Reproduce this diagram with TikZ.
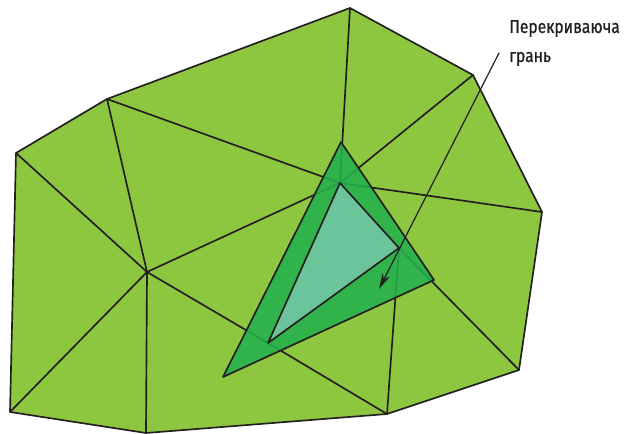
\documentclass[tikz,border=0pt]{standalone}
\usepackage{fontspec}
\setmainfont{Fira Sans}
\usetikzlibrary{arrows.meta}
\definecolor{meshgreen}{HTML}{8DC63F}
\definecolor{overgreen}{HTML}{22B14C}
\definecolor{innergreen}{HTML}{6CC59A}
\definecolor{inkline}{HTML}{231F20}
\tikzset{
  edge/.style={draw=inkline, line width=1.25pt, line join=round},
  overlapface/.style={fill=overgreen, fill opacity=0.88, draw=inkline, line width=1.25pt, line join=round},
  innerface/.style={fill=innergreen, draw=inkline, line width=1.25pt, line join=round},
  pointer/.style={draw=inkline, line width=0.9pt, -{Stealth[length=12pt,width=6pt]}},
  labeltext/.style={text=inkline, font=\fontsize{14pt}{17pt}\selectfont\addfontfeature{FakeStretch=0.84,FakeBold=0.8}, inner sep=0pt}
}
\begin{document}
\begin{tikzpicture}[x=0.75pt,y=-0.75pt]
\useasboundingbox (0,0) rectangle (633,434);
% mesh vertices
\coordinate (A) at (107,99);
\coordinate (F) at (350,8);
\coordinate (G) at (473,75);
\coordinate (H) at (542,212);
\coordinate (I) at (519,370);
\coordinate (J) at (387,414);
\coordinate (D) at (146,433);
\coordinate (C) at (10,412);
\coordinate (B) at (16,153);
\coordinate (E) at (147,272);
\coordinate (K) at (340,183);
\coordinate (L) at (399,248);
\coordinate (M) at (268,343);
% overlapping face
\coordinate (P) at (341,142);
\coordinate (Q) at (434,280);
\coordinate (R) at (223,377);
% mesh fill
\fill[meshgreen] (A) -- (F) -- (G) -- (H) -- (I) -- (J) -- (D) -- (C) -- (B) -- cycle;
% internal edges
\draw[edge] (A) -- (E);
\draw[edge] (B) -- (E);
\draw[edge] (C) -- (E);
\draw[edge] (D) -- (E);
\draw[edge] (A) -- (K);
\draw[edge] (E) -- (K);
\draw[edge] (E) -- (M);
\draw[edge] (M) -- (J);
\draw[edge] (F) -- (K);
\draw[edge] (G) -- (K);
\draw[edge] (H) -- (K);
\draw[edge] (L) -- (I);
\draw[edge] (L) -- (J);
% outline
\draw[edge] (A) -- (F) -- (G) -- (H) -- (I) -- (J) -- (D) -- (C) -- (B) -- cycle;
% overlapping face
\draw[overlapface] (P) -- (Q) -- (R) -- cycle;
% inner face
\draw[innerface] (K) -- (L) -- (M) -- cycle;
% label
\node[labeltext, anchor=base west] (lab1) at (509,33) {Перекриваюча};
\node[labeltext, anchor=base west] (lab2) at (509,62) {грань};
\coordinate (ptrstart) at (499,53);
\coordinate (ptrend) at (379,289);
\draw[pointer] (ptrstart) -- (ptrend);
\end{tikzpicture}
\end{document}
